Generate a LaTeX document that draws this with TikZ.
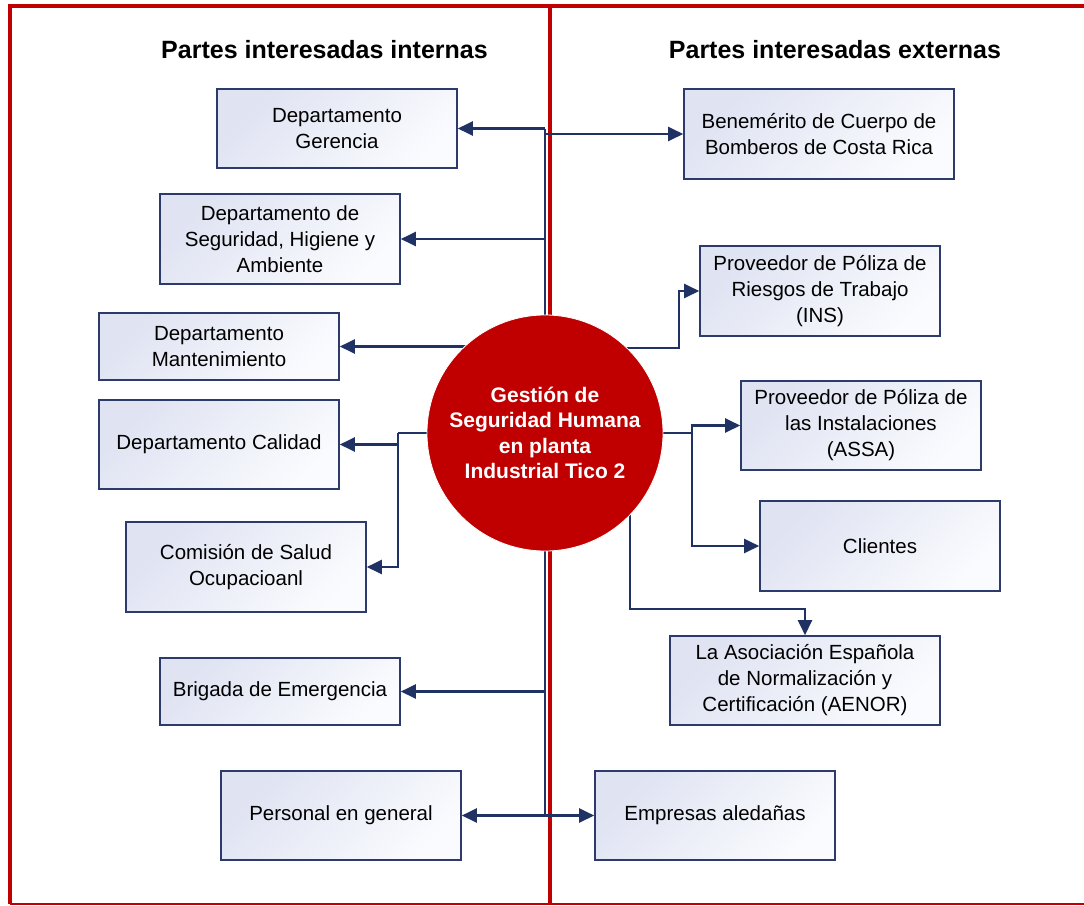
\documentclass[tikz,border=0pt]{standalone}
\usepackage{fontspec}
\setmainfont{Liberation Sans}
\usetikzlibrary{arrows.meta,shapes.geometric}

\definecolor{cred}{HTML}{C00000}
\definecolor{cnavy}{HTML}{1F3263}
\definecolor{cboxline}{HTML}{2C3A6C}
\definecolor{cboxtop}{HTML}{DFE3F2}
\definecolor{cboxbot}{HTML}{FAFBFE}

\tikzset{
  party/.style={rectangle, draw=cboxline, line width=1.6pt,
    top color=cboxtop, bottom color=cboxbot, shading angle=45,
    minimum width=240pt, align=center, inner sep=2pt,
    font=\fontsize{20.5}{26}\selectfont},
  conn/.style={draw=cnavy, line width=2.3pt, line join=miter,
    -{Triangle[length=15pt,width=14pt]}},
  wire/.style={draw=cnavy, line width=2.3pt, line join=miter},
  heading/.style={font=\fontsize{25}{30}\selectfont\bfseries},
  hub/.style={circle, fill=cred, draw=white, line width=0.8pt,
    minimum size=236pt, inner sep=0pt, text=white, align=center,
    font=\fontsize{21}{25.5}\selectfont\bfseries}
}

\begin{document}
\begin{tikzpicture}[x=1pt,y=-1pt]
\useasboundingbox (0,0) rectangle (1084,905);

% frame and divider
\draw[cred, line width=4pt] (8,6) -- (1084,6);
\draw[cred, line width=4pt] (10,4) -- (10,904);
\draw[cred, line width=2pt] (10,903.5) -- (1084,903.5);
\draw[cred, line width=4pt] (550,6) -- (550,905);

% headings
\node[heading] (hint) at (324.5,50) {Partes interesadas internas};
\node[heading] (hext) at (835,50) {Partes interesadas externas};

% internal parties
\node[party, minimum height=79pt] (ger) at (337,128.5) {Departamento\\Gerencia};
\node[party, minimum height=90pt] (seg) at (280,239) {Departamento de\\Seguridad, Higiene y\\Ambiente};
\node[party, minimum height=67pt] (man) at (219,346.5) {Departamento\\Mantenimiento};
\node[party, minimum height=89pt] (cal) at (219,444.5) {Departamento Calidad};
\node[party, minimum height=90pt] (com) at (246,567) {Comisión de Salud\\Ocupacioanl};
\node[party, minimum height=67pt] (bri) at (280,691.5) {Brigada de Emergencia};
\node[party, minimum height=89pt] (per) at (341,815.5) {Personal en general};

% external parties
\node[party, minimum width=270pt, minimum height=90pt] (ben) at (819,134) {Benemérito de Cuerpo de\\Bomberos de Costa Rica};
\node[party, minimum height=90pt] (ins) at (820,291) {Proveedor de Póliza de\\Riesgos de Trabajo\\(INS)};
\node[party, minimum height=89pt] (assa) at (861,425.5) {Proveedor de Póliza de\\las Instalaciones\\(ASSA)};
\node[party, minimum height=90pt] (cli) at (880,546) {Clientes};
\node[party, minimum width=270pt, minimum height=89pt] (aenor) at (805,680.5) {La Asociación Española\\de Normalización y\\Certificación (AENOR)};
\node[party, minimum height=89pt] (emp) at (715,815.5) {Empresas aledañas};

% junction points
\coordinate (ttop) at (545,128.5);
\coordinate (tbot) at (545,815.5);
\coordinate (hubc) at (545,433);
\coordinate (lfork) at (398,433);
\coordinate (rfork) at (692,433);
\coordinate (insk) at (679,348);
\coordinate (aenk) at (630,609);

% central trunk
\draw[wire] (ttop) -- (tbot);

% left side
\draw[conn] (ttop) -- (ger.east);
\draw[conn] (545,239) -- (seg.east);
\draw[conn] (545,346.5) -- (man.east);
\draw[wire] (hubc) -- (lfork);
\draw[conn] (lfork) |- (com.east);
\draw[conn] (lfork |- cal.east) -- (cal.east);
\draw[conn] (545,691.5) -- (bri.east);
\draw[conn] (tbot) -- (per.east);

% right side
\draw[conn] (545,134) -- (ben.west);
\draw[conn] (hubc |- insk) -- (insk) |- (ins.west);
\draw[wire] (hubc) -- (rfork);
\draw[conn] (rfork) |- (assa.west);
\draw[conn] (rfork) |- (cli.west);
\draw[conn] (hubc -| aenk) -- (aenk) -| (aenor.north);
\draw[conn] (tbot) -- (emp.west);

% central hub
\node[hub] (hub) at (hubc) {Gestión de\\Seguridad Humana\\en planta\\Industrial Tico 2};
\end{tikzpicture}
\end{document}
